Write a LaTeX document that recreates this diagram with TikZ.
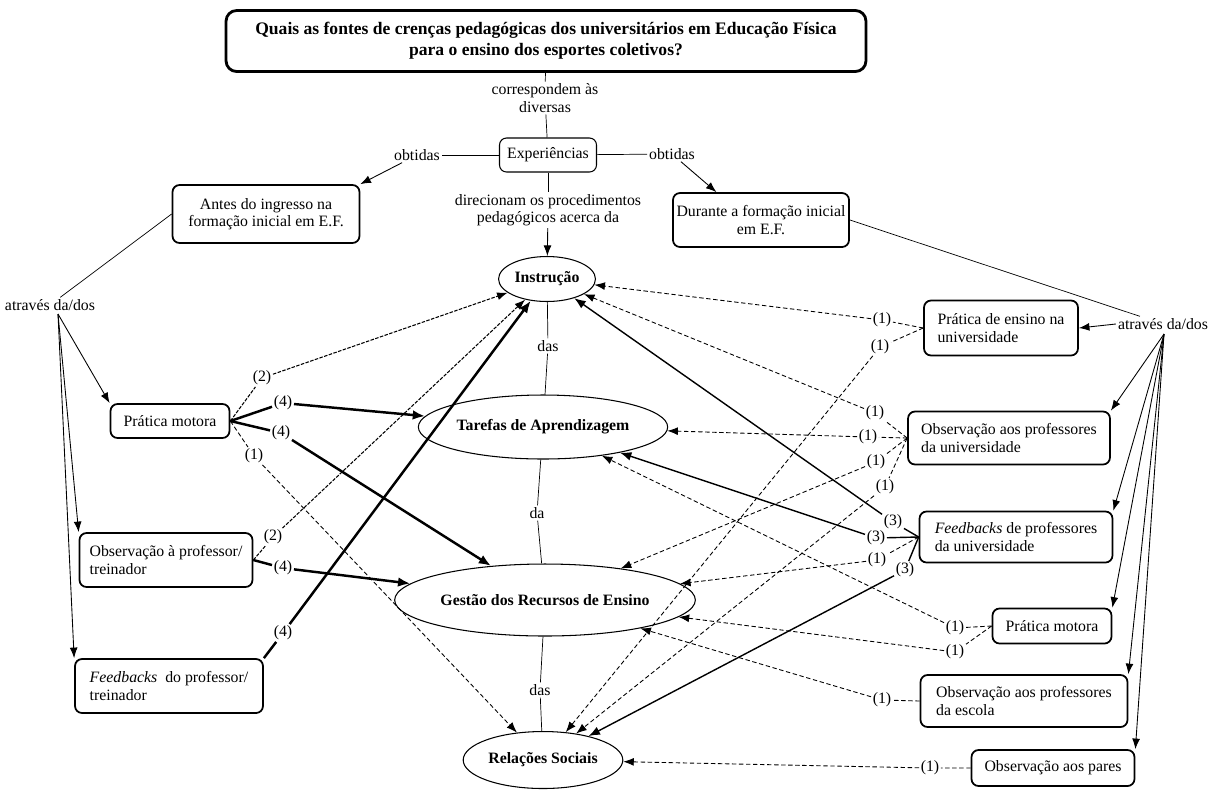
\documentclass[tikz,border=0pt]{standalone}
\usepackage{fontspec}
\setmainfont{Liberation Serif}
\usetikzlibrary{positioning,shapes.geometric,arrows.meta}

\begin{document}
\begin{tikzpicture}[x=0.02cm, y=-0.02cm,
	every node/.style={font=\fontsize{9}{10}\selectfont},
	box/.style={draw, rounded corners=4pt, line width=1pt, align=center, inner sep=2pt},
	lbox/.style={box, align=left},
	oval/.style={draw, ellipse, line width=0.6pt, inner sep=1pt, font=\fontsize{9}{10}\selectfont\bfseries},
	word/.style={align=center, inner sep=1pt},
	num/.style={inner sep=0.8pt},
	arr/.style={-{Latex[length=6pt,width=4.5pt]}, line width=0.5pt},
	w1/.style={dash pattern=on 2.5pt off 1.5pt, -{Latex[length=6pt,width=4.5pt]}, line width=0.5pt},
	w2/.style={dash pattern=on 2pt off 0.8pt, -{Latex[length=6pt,width=4.5pt]}, line width=0.6pt},
	w3/.style={-{Latex[length=6.5pt,width=5pt]}, line width=0.8pt},
	w4/.style={-{Latex[length=7pt,width=5.5pt]}, line width=1.4pt}]
				\useasboundingbox (0,0) rectangle (1222,792);

				% question and experiences
				\node [box, font=\fontsize{10}{12}\selectfont\bfseries, line width=1.6pt, rounded corners=6pt, minimum width=12.8cm, minimum height=1.22cm] (title) at (546,41) {Quais as fontes de crenças pedagógicas dos universitários em Educação Física\\para o ensino dos esportes coletivos?};
				\node [word] (corr) at (545,98) {correspondem às\\diversas};
				\node [box, line width=0.6pt, minimum width=1.94cm, minimum height=0.68cm] (exp) at (548,155) {Experiências};
				\node [word] (ob1) at (417,155) {obtidas};
				\node [word] (ob2) at (672,154) {obtidas};
				\node [box, minimum width=3.74cm, minimum height=1.16cm] (antes) at (266,214) {Antes do ingresso na\\formação inicial em E.F.};
				\node [box, minimum width=3.02cm, minimum height=1.08cm] (durante) at (761,220) {Durante a formação inicial\\em E.F.};
				\node [word] (dir) at (548,210) {direcionam os procedimentos\\pedagógicos acerca da};

				% central chain
				\node [oval, minimum width=1.6cm, minimum height=0.9cm] (instr) at (547,279) {Instrução};
				\node [word] (das1) at (548,346) {das};
				\node [oval, minimum width=3.96cm, minimum height=1.28cm] (taref) at (543,427) {Tarefas de Aprendizagem};
				\node [word] (da) at (537,513) {da};
				\node [oval, minimum width=4.68cm, minimum height=1.44cm] (gest) at (545,600) {Gestão dos Recursos de Ensino};
				\node [word] (das2) at (540,690) {das};
				\node [oval, minimum width=2.6cm, minimum height=1.14cm] (rel) at (543,760) {Relações Sociais};

				% before initial training
				\node [word] (thr1) at (50,305) {através da/dos};
				\node [box, minimum width=2.38cm, minimum height=0.68cm] (pm1) at (170,421) {Prática motora};
				\node [lbox, minimum width=3.46cm, minimum height=1.08cm] (opt) at (166,560) {Observação à professor/\\treinador};
				\node [lbox, minimum width=3.76cm, minimum height=1.08cm] (fpt) at (169,686) {\textit{Feedbacks}\ \ do professor/\\treinador};

				% during initial training
				\node [word] (thr2) at (1163,324) {através da/dos};
				\node [lbox, minimum width=3.08cm, minimum height=1.1cm] (pe) at (1001,328) {Prática de ensino na\\universidade};
				\node [lbox, minimum width=4.04cm, minimum height=1.06cm] (opu) at (1009,438) {Observação aos professores\\da universidade};
				\node [lbox, minimum width=3.86cm, minimum height=1.02cm] (fpu) at (1016,537) {\textit{Feedbacks} de professores\\da universidade};
				\node [box, minimum width=2.38cm, minimum height=0.7cm] (pm2) at (1052,626) {Prática motora};
				\node [lbox, minimum width=4.14cm, minimum height=1.04cm] (ope) at (1024,701) {Observação aos professores\\da escola};
				\node [box, minimum width=3.26cm, minimum height=0.72cm] (op) at (1053,768) {Observação aos pares};

				% counts, left
				\node [num] (la) at (262,378) {(2)};
				\node [num] (lb) at (283,403) {(4)};
				\node [num] (lc) at (281,433) {(4)};
				\node [num] (ld) at (254,456) {(1)};
				\node [num] (le) at (273,537) {(2)};
				\node [num] (lf) at (283,568) {(4)};
				\node [num] (lg) at (283,633) {(4)};

				% counts, right
				\node [num] (ra) at (882,320) {(1)};
				\node [num] (rb) at (880,347) {(1)};
				\node [num] (rc) at (875,413) {(1)};
				\node [num] (rd) at (868,437) {(1)};
				\node [num] (re) at (876,462) {(1)};
				\node [num] (rf) at (885,487) {(1)};
				\node [num] (rg) at (893,522) {(3)};
				\node [num] (rh) at (876,538) {(3)};
				\node [num] (ri) at (877,560) {(1)};
				\node [num] (rj) at (905,570) {(3)};
				\node [num] (rk) at (955,628) {(1)};
				\node [num] (rl) at (955,652) {(1)};
				\node [num] (rm) at (882,700) {(1)};
				\node [num] (rn) at (930,768) {(1)};

				% top links
				\draw (title) -- (corr);
				\draw (corr) -- (exp);
				\draw (exp) -- (ob1);
				\draw [arr] (ob1) -- (antes.north east);
				\draw (exp) -- (ob2);
				\draw [arr] (ob2) -- (durante.148);
				\draw (exp) -- (dir);
				\draw [arr] (dir) -- (instr);
				\draw (instr) -- (das1) -- (taref);
				\draw (taref) -- (da) -- (gest);
				\draw (gest) -- (das2) -- (rel);

				% left sources
				\draw (antes.west) -- (thr1);
				\coordinate (t1) at (58,314);
				\draw [arr] (t1) -- (pm1.north west);
				\draw [arr] (t1) -- (opt.north west);
				\draw [arr] (t1) -- (fpt.north west);
				\draw [w2] (pm1.east) -- (la) -- (instr);
				\draw [w4] (pm1.east) -- (lb) -- (taref);
				\draw [w4] (pm1.east) -- (lc) -- (gest);
				\draw [w1] (pm1.east) -- (ld) -- (rel);
				\draw [w2] (opt.east) -- (le) -- (instr);
				\draw [w4] (opt.east) -- (lf) -- (gest);
				\draw [w4] (fpt.north east) -- (lg) -- (instr);

				% right sources
				\draw (durante.east) -- (thr2);
				\draw [arr] (thr2.west) -- (pe.east);
				\coordinate (t2) at (1164,334);
				\draw [arr] (t2) -- (opu.north east);
				\draw [arr] (t2) -- (fpu.north east);
				\draw [arr] (t2) -- (pm2.north east);
				\draw [arr] (t2) -- (ope.north east);
				\draw [arr] (t2) -- (op.north east);
				\draw [w1] (pe.west) -- (ra) -- (instr);
				\draw [w1] (pe.west) -- (rb) -- (rel);
				\draw [w1] (opu.west) -- (rc) -- (instr);
				\draw [w1] (opu.west) -- (rd) -- (taref);
				\draw [w1] (opu.west) -- (re) -- (gest);
				\draw [w1] (opu.west) -- (rf) -- (rel);
				\draw [w3] (fpu.west) -- (rg) -- (instr);
				\draw [w3] (fpu.west) -- (rh) -- (taref);
				\draw [w1] (fpu.west) -- (ri) -- (gest);
				\draw [w3] (fpu.west) -- (rj) -- (rel);
				\draw [w1] (pm2.west) -- (rk) -- (taref);
				\draw [w1] (pm2.west) -- (rl) -- (gest);
				\draw [w1] (ope.west) -- (rm) -- (gest);
				\draw [w1] (op.west) -- (rn) -- (rel);

			\end{tikzpicture}
\end{document}
